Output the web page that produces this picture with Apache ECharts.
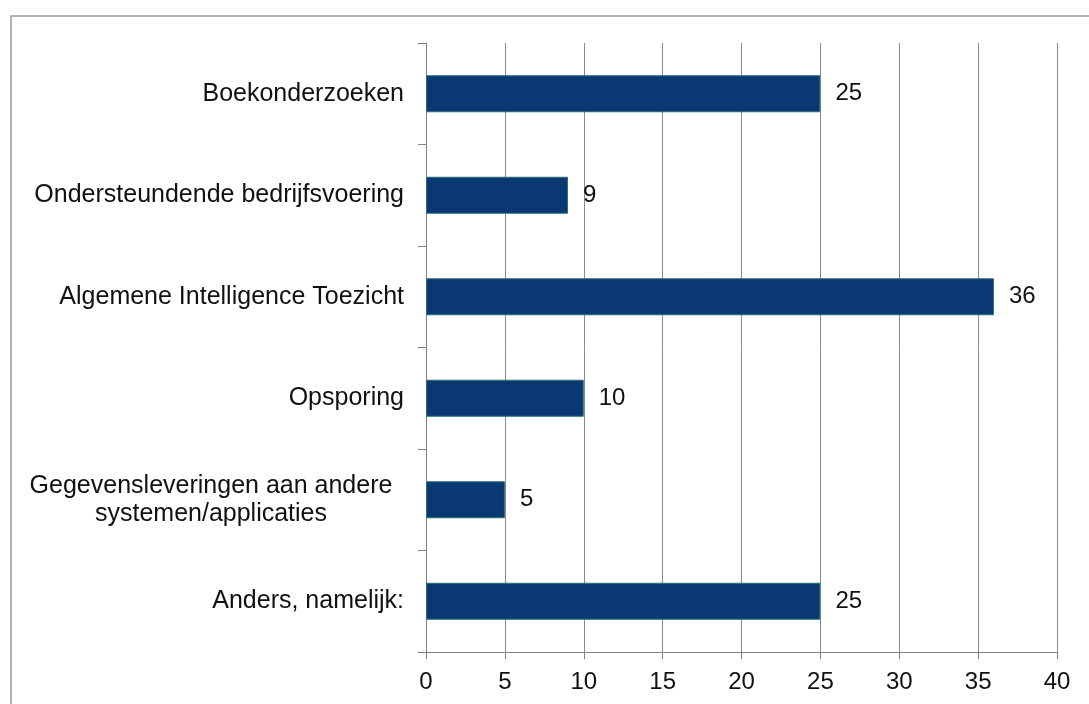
<!DOCTYPE html>
<html>
<head>
<meta charset="utf-8">
<script src="https://cdn.jsdelivr.net/npm/echarts@6/dist/echarts.min.js"></script>
<style>
  html, body { margin: 0; padding: 0; background: #fff; }
  #chart { width: 1089px; height: 704px; }
</style>
</head>
<body>
<div id="chart"></div>
<script>
// categories top to bottom
const categories = [
  "Boekonderzoeken",
  "Ondersteundende bedrijfsvoering",
  "Algemene Intelligence Toezicht",
  "Opsporing",
  "Gegevensleveringen aan andere\nsystemen/applicaties",
  "Anders, namelijk:"
];
const values = [25, 9, 36, 10, 5, 25];
const xTicks = [0, 5, 10, 15, 20, 25, 30, 35, 40];

let myChart = echarts.init(document.getElementById("chart"));
myChart.setOption({
  animation: false,
  textStyle: { fontFamily: "Liberation Sans, Arial, sans-serif" },
  graphic: [
    {
      type: "rect",
      shape: { x: 11, y: 16, width: 1120, height: 720 },
      style: { fill: "none", stroke: "#9a9a9a", lineWidth: 1.5 },
      silent: true
    }
  ],
  grid: {
    left: 426,
    right: 32,
    top: 43,
    bottom: 52
  },
  xAxis: {
    type: "value",
    min: xTicks[0],
    max: xTicks[xTicks.length - 1],
    interval: 5,
    axisLine: { show: true, lineStyle: { color: "#808080", width: 1 } },
    axisTick: { show: true, length: 7, lineStyle: { color: "#808080" } },
    axisLabel: { color: "#111", fontSize: 24, margin: 18 },
    splitLine: { show: true, lineStyle: { color: "#8a8a8a", width: 1 } }
  },
  yAxis: {
    type: "category",
    inverse: true,
    data: categories,
    axisLine: { show: true, lineStyle: { color: "#808080", width: 1 } },
    axisTick: { show: true, length: 8, lineStyle: { color: "#808080" } },
    axisLabel: {
      color: "#111",
      fontSize: 25,
      margin: 22,
      formatter: function (v) {
        // two-line label is centred line by line
        return v.indexOf("\n") >= 0 ? "{c|" + v + "}" : v;
      },
      rich: {
        c: { fontSize: 25, color: "#111", width: 386, align: "center", lineHeight: 28 }
      }
    },
    splitLine: { show: false }
  },
  series: [
    {
      type: "bar",
      data: values,
      barWidth: 37,
      itemStyle: {
        color: "#093873",
        borderColor: "#2b6e78",
        borderWidth: 1
      },
      label: {
        show: true,
        position: "right",
        distance: 15,
        color: "#111",
        fontSize: 24
      }
    }
  ]
});
</script>
</body>
</html>
